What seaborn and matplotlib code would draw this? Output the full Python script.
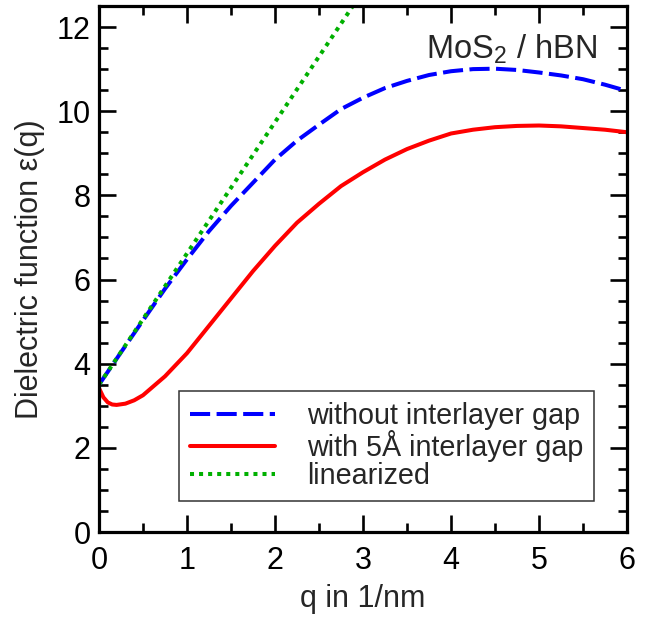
import matplotlib
matplotlib.use("Agg")
import matplotlib.pyplot as plt
import seaborn as sns
import pandas as pd
from matplotlib.ticker import MultipleLocator

# ---- data ----
q_blue = [0, 0.25, 0.5, 0.75, 1.0, 1.25, 1.5, 1.75, 2.0, 2.25, 2.5, 2.75, 3.0,
          3.25, 3.5, 3.75, 4.0, 4.25, 4.5, 4.75, 5.0, 5.25, 5.5, 5.75, 6.0]
eps_blue = [3.5, 4.27, 5.03, 5.78, 6.48, 7.15, 7.75, 8.3, 8.85, 9.3, 9.68, 10.05, 10.32,
            10.55, 10.72, 10.86, 10.95, 11.0, 11.01, 10.98, 10.92, 10.85, 10.76, 10.63, 10.48]

q_red = [0, 0.05, 0.1, 0.15, 0.2, 0.3, 0.4, 0.5, 0.75, 1.0, 1.25, 1.5, 1.75, 2.0,
         2.25, 2.5, 2.75, 3.0, 3.25, 3.5, 3.75, 4.0, 4.25, 4.5, 4.75, 5.0, 5.25,
         5.5, 5.75, 6.0]
eps_red = [3.42, 3.2, 3.08, 3.03, 3.02, 3.05, 3.13, 3.25, 3.7, 4.25, 4.9, 5.55, 6.2, 6.8,
           7.35, 7.8, 8.22, 8.55, 8.85, 9.1, 9.3, 9.47, 9.56, 9.62, 9.65, 9.66, 9.64,
           9.6, 9.56, 9.5]

q_lin = [0.0, 3.0]
eps_lin = [3.5, 12.86]

labels = ["without interlayer gap", "with 5Å interlayer gap", "linearized"]

sns.set_style("ticks")
plt.rcParams["font.family"] = ["Liberation Sans", "DejaVu Sans"]
plt.rcParams["mathtext.fontset"] = "custom"
plt.rcParams["mathtext.rm"] = "Liberation Sans"
plt.rcParams["mathtext.it"] = "Liberation Sans:italic"

fig = plt.figure(figsize=(6.62, 6.19), dpi=100)
ax = fig.add_axes([99 / 662, 1 - 532 / 619, 528 / 662, 526 / 619])

df_b = pd.DataFrame({"q": q_blue, "eps": eps_blue})
df_r = pd.DataFrame({"q": q_red, "eps": eps_red})
df_l = pd.DataFrame({"q": q_lin, "eps": eps_lin})

lw = 2.9
sns.lineplot(data=df_b, x="q", y="eps", color="#0000ff", lw=lw, ax=ax, errorbar=None)
lb = ax.lines[-1]
lb.set_dashes((5, 1.6))
sns.lineplot(data=df_r, x="q", y="eps", color="#ff0000", lw=lw, ax=ax, errorbar=None)
lr = ax.lines[-1]
sns.lineplot(data=df_l, x="q", y="eps", color="#00b000", lw=lw, ax=ax, errorbar=None)
lg = ax.lines[-1]
lg.set_dashes((1, 1.25))

ax.set_xlim(0, 6)
ax.set_ylim(0, 12.5)
ax.xaxis.set_major_locator(MultipleLocator(1))
ax.xaxis.set_minor_locator(MultipleLocator(0.5))
ax.yaxis.set_major_locator(MultipleLocator(2))
ax.yaxis.set_minor_locator(MultipleLocator(0.5))
ax.tick_params(which="both", direction="in", top=True, right=True, width=1.9,
               labelsize=22, color="black", labelcolor="black")
ax.tick_params(which="major", length=12.5)
ax.tick_params(which="minor", length=6.5)
ax.tick_params(axis="x", which="major", pad=10)
ax.tick_params(axis="y", which="major", pad=6)
for s in ax.spines.values():
    s.set_linewidth(2.3)
    s.set_color("black")

ax.set_xlabel("q in 1/nm", fontsize=22, labelpad=6)
ax.set_ylabel("Dielectric function ε(q)", fontsize=22, labelpad=8)

ax.text(0.943, 0.90, "MoS$_2$ / hBN", transform=ax.transAxes, ha="right",
        va="baseline", fontsize=23.5)

leg = ax.legend([lb, lr, lg], labels, loc="lower right",
                bbox_to_anchor=(0.9375, 0.059), fontsize=20.7, frameon=True,
                fancybox=False, framealpha=1, edgecolor="#333333",
                handlelength=2.95, handletextpad=1.11, borderpad=0.38,
                labelspacing=0.0, borderaxespad=0)
leg.get_frame().set_linewidth(1.1)

fig.savefig("out.png", dpi=100)
